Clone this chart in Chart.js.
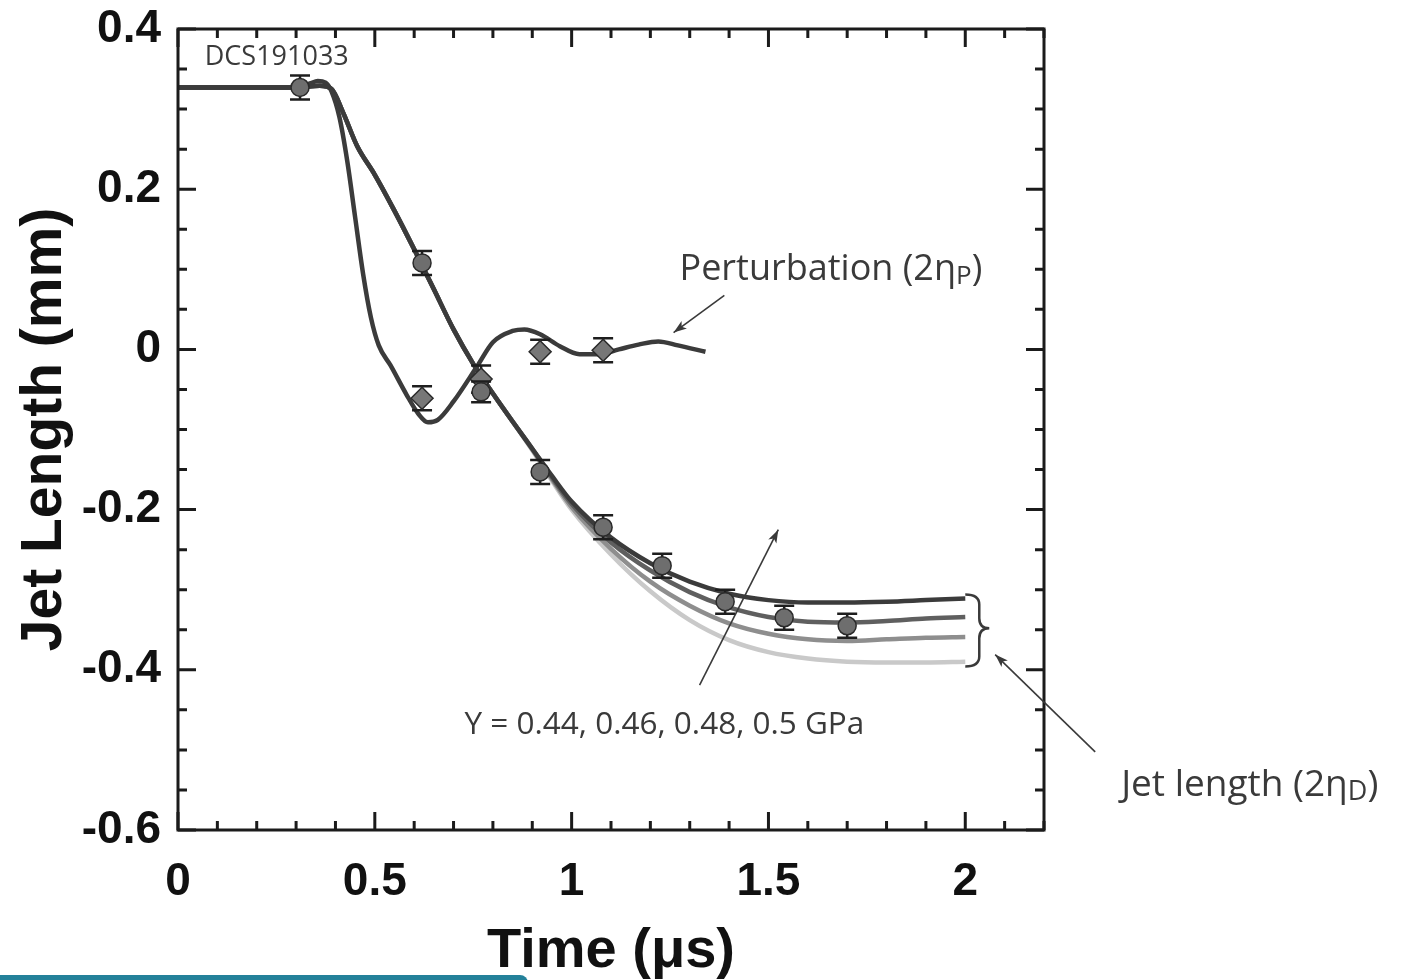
<!DOCTYPE html>
<html>
<head>
<meta charset="utf-8">
<script src="https://cdn.jsdelivr.net/npm/chart.js@4.4.1/dist/chart.umd.min.js"></script>
<style>
  html, body { margin: 0; padding: 0; background: #fff; }
  #wrap { position: relative; width: 1401px; height: 980px; overflow: hidden; }
  #strip { position: absolute; left: 0; top: 975px; width: 528px; height: 12px; background: #23819a; border-top-right-radius: 8px; }
</style>
</head>
<body>
<div id="wrap">
  <canvas id="chart" width="1401" height="980"></canvas>
  <div id="strip"></div>
</div>
<script>
// Simulation curves (time in us, length in mm)
const simTime = [0, 0.3, 0.36, 0.39, 0.42, 0.455, 0.5, 0.55, 0.6, 0.65, 0.7, 0.75, 0.8, 0.85, 0.9, 0.95, 1.0, 1.1, 1.2, 1.3, 1.4, 1.5, 1.6, 1.7, 1.8, 1.9, 2.0];
const jetY050 = [0.327, 0.327, 0.329, 0.325, 0.295, 0.254, 0.218, 0.173, 0.125, 0.075, 0.025, -0.018, -0.055, -0.09, -0.124, -0.158, -0.19, -0.235, -0.267, -0.29, -0.305, -0.313, -0.316, -0.316, -0.315, -0.313, -0.311];
const jetY048 = [0.327, 0.327, 0.329, 0.325, 0.295, 0.254, 0.218, 0.173, 0.125, 0.075, 0.025, -0.018, -0.055, -0.09, -0.124, -0.160, -0.193, -0.241, -0.276, -0.303, -0.322, -0.334, -0.34, -0.341, -0.339, -0.336, -0.334];
const jetY046 = [0.327, 0.327, 0.329, 0.325, 0.295, 0.254, 0.218, 0.173, 0.125, 0.075, 0.025, -0.018, -0.055, -0.09, -0.125, -0.162, -0.197, -0.249, -0.29, -0.32, -0.342, -0.355, -0.362, -0.364, -0.362, -0.36, -0.359];
const jetY044 = [0.327, 0.327, 0.329, 0.325, 0.295, 0.254, 0.218, 0.173, 0.125, 0.075, 0.025, -0.018, -0.055, -0.09, -0.126, -0.164, -0.2, -0.256, -0.302, -0.338, -0.363, -0.378, -0.386, -0.39, -0.391, -0.391, -0.39];

const pertTime = [0, 0.3, 0.335, 0.355, 0.375, 0.39, 0.41, 0.43, 0.45, 0.47, 0.49, 0.51, 0.54, 0.58, 0.61, 0.635, 0.66, 0.7, 0.76, 0.8, 0.85, 0.88, 0.92, 0.97, 1.02, 1.07, 1.12, 1.17, 1.22, 1.27, 1.34];
const pertY = [0.327, 0.327, 0.332, 0.335, 0.333, 0.322, 0.29, 0.235, 0.165, 0.095, 0.04, 0.005, -0.02, -0.056, -0.08, -0.091, -0.088, -0.065, -0.021, 0.009, 0.023, 0.025, 0.019, 0.004, -0.006, -0.006, 0.0, 0.006, 0.01, 0.005, -0.003];

// Measurements
const measTime = [0.31, 0.62, 0.77, 0.92, 1.08, 1.23, 1.39, 1.54, 1.70];
const measJet = [0.327, 0.108, -0.053, -0.153, -0.222, -0.27, -0.315, -0.335, -0.345];
const measJetErr = [0.015, 0.015, 0.013, 0.015, 0.015, 0.015, 0.015, 0.015, 0.015];
const measPertTime = [0.62, 0.77, 0.92, 1.08];
const measPert = [-0.061, -0.037, -0.003, -0.001];
const measPertErr = [0.015, 0.017, 0.015, 0.015];

const xTickValues = [0, 0.5, 1, 1.5, 2];
const xTickLabels = ['0', '0.5', '1', '1.5', '2'];
const yTickValues = [-0.6, -0.4, -0.2, 0, 0.2, 0.4];
const yTickLabels = ['-0.6', '-0.4', '-0.2', '0', '0.2', '0.4'];

const pts = (xs, ys) => xs.map((x, i) => ({ x: x, y: ys[i] }));

function curve(label, xs, ys, color) {
    return {
        label, data: pts(xs, ys), borderColor: color, borderWidth: 4.5,
        pointRadius: 0, cubicInterpolationMode: 'monotone', fill: false
    };
}

function errorBars(ctx, xs, ys, errs, xScale, yScale) {
    ctx.save();
    ctx.strokeStyle = '#1e1e1e';
    ctx.lineWidth = 2.5;
    ctx.beginPath();
    xs.forEach((t, i) => {
        const px = xScale.getPixelForValue(t);
        const top = yScale.getPixelForValue(ys[i] + errs[i]);
        const bot = yScale.getPixelForValue(ys[i] - errs[i]);
        ctx.moveTo(px, top); ctx.lineTo(px, bot);
        ctx.moveTo(px - 10, top); ctx.lineTo(px + 10, top);
        ctx.moveTo(px - 10, bot); ctx.lineTo(px + 10, bot);
    });
    ctx.stroke();
    ctx.restore();
}

const errorPlugin = {
    id: 'errorPlugin',
    beforeDatasetDraw(chart, args) {
        const { x, y } = chart.scales;
        if (args.index === 0) errorBars(chart.ctx, measTime, measJet, measJetErr, x, y);
        if (args.index === 1) errorBars(chart.ctx, measPertTime, measPert, measPertErr, x, y);
    }
};

const framePlugin = {
    id: 'framePlugin',
    afterDraw(chart) {
        const { ctx, chartArea: a, scales: { x, y } } = chart;
        ctx.save();
        ctx.strokeStyle = '#1b1b1b';
        ctx.lineWidth = 3;
        ctx.beginPath();
        for (let i = 0; i <= 22; i++) {
            const px = x.getPixelForValue(i / 10);
            const len = i % 5 === 0 ? 18 : 9;
            ctx.moveTo(px, a.bottom); ctx.lineTo(px, a.bottom - len);
            ctx.moveTo(px, a.top); ctx.lineTo(px, a.top + len);
        }
        for (let i = 0; i <= 20; i++) {
            const py = y.getPixelForValue(-0.6 + i * 0.05);
            const len = i % 4 === 0 ? 18 : 9;
            ctx.moveTo(a.left, py); ctx.lineTo(a.left + len, py);
            ctx.moveTo(a.right, py); ctx.lineTo(a.right - len, py);
        }
        ctx.stroke();
        ctx.strokeRect(a.left, a.top, a.width, a.height);
        ctx.restore();
    }
};

function subText(ctx, x, y, main, sub, tail, size) {
    ctx.font = size + 'px "Open Sans"';
    ctx.fillText(main, x, y);
    let w = ctx.measureText(main).width;
    ctx.font = Math.round(size * 0.72) + 'px "Open Sans"';
    ctx.fillText(sub, x + w, y + size * 0.2);
    w += ctx.measureText(sub).width;
    ctx.font = size + 'px "Open Sans"';
    ctx.fillText(tail, x + w, y);
}

function arrow(ctx, x1, y1, x2, y2) {
    const ang = Math.atan2(y2 - y1, x2 - x1);
    ctx.beginPath();
    ctx.moveTo(x1, y1); ctx.lineTo(x2, y2);
    ctx.stroke();
    ctx.beginPath();
    ctx.moveTo(x2, y2);
    ctx.lineTo(x2 - 14 * Math.cos(ang - 0.33), y2 - 14 * Math.sin(ang - 0.33));
    ctx.lineTo(x2 - 10 * Math.cos(ang), y2 - 10 * Math.sin(ang));
    ctx.lineTo(x2 - 14 * Math.cos(ang + 0.33), y2 - 14 * Math.sin(ang + 0.33));
    ctx.closePath();
    ctx.fill();
}

const notesPlugin = {
    id: 'notesPlugin',
    afterDraw(chart) {
        const { ctx, scales: { x, y } } = chart;
        const X = v => x.getPixelForValue(v), Y = v => y.getPixelForValue(v);
        ctx.save();
        ctx.fillStyle = '#3a3a3a';
        ctx.strokeStyle = '#3a3a3a';
        ctx.textBaseline = 'middle';
        ctx.textAlign = 'left';

        ctx.font = '27px "Open Sans"';
        ctx.fillText('DCS191033', X(0.068), Y(0.365));

        subText(ctx, X(1.274), Y(0.1), 'Perturbation (2\u03b7', 'P', ')', 36);
        ctx.font = '31.5px "Open Sans"';
        ctx.fillText('Y = 0.44, 0.46, 0.48, 0.5 GPa', X(0.728), Y(-0.469));
        subText(ctx, X(2.396), Y(-0.544), 'Jet length (2\u03b7', 'D', ')', 37);

        ctx.lineWidth = 1.6;
        arrow(ctx, X(1.388), Y(0.0675), X(1.259), Y(0.021));
        arrow(ctx, X(1.325), Y(-0.419), X(1.525), Y(-0.225));
        arrow(ctx, X(2.33), Y(-0.5025), X(2.076), Y(-0.381));

        // brace grouping the four jet curves
        const x0 = X(2.0), xm = x0 + 14, xt = x0 + 24;
        const yT = Y(-0.306), yM = Y(-0.348), yB = Y(-0.396), r = 10;
        ctx.lineWidth = 2.5;
        ctx.beginPath();
        ctx.moveTo(x0, yT);
        ctx.quadraticCurveTo(xm, yT, xm, yT + r);
        ctx.lineTo(xm, yM - r);
        ctx.quadraticCurveTo(xm, yM, xt, yM);
        ctx.quadraticCurveTo(xm, yM, xm, yM + r);
        ctx.lineTo(xm, yB - r);
        ctx.quadraticCurveTo(xm, yB, x0, yB);
        ctx.stroke();
        ctx.restore();
    }
};

const tickFont = { family: '"Liberation Sans", Arial, sans-serif', size: 46, weight: 'bold', lineHeight: 1 };

new Chart(document.getElementById('chart'), {
    type: 'line',
    data: {
        datasets: [
            {
                label: 'Jet length data', data: pts(measTime, measJet), showLine: false,
                pointStyle: 'circle', pointRadius: 9, pointBackgroundColor: '#6e6e6e',
                pointBorderColor: '#2a2a2a', pointBorderWidth: 1.5
            },
            {
                label: 'Perturbation data', data: pts(measPertTime, measPert), showLine: false,
                pointStyle: 'rectRot', pointRadius: 11, pointBackgroundColor: '#777777',
                pointBorderColor: '#2a2a2a', pointBorderWidth: 1.5
            },
            curve('Perturbation', pertTime, pertY, '#3b3b3b'),
            curve('Y = 0.50 GPa', simTime, jetY050, '#3b3b3b'),
            curve('Y = 0.48 GPa', simTime, jetY048, '#5f5f5f'),
            curve('Y = 0.46 GPa', simTime, jetY046, '#8e8e8e'),
            curve('Y = 0.44 GPa', simTime, jetY044, '#c9c9c9')
        ]
    },
    options: {
        responsive: false,
        animation: false,
        devicePixelRatio: 1,
        layout: { padding: { top: 29, right: 357, bottom: 0, left: 0 } },
        plugins: { legend: { display: false }, tooltip: { enabled: false } },
        scales: {
            x: {
                type: 'linear', min: 0, max: 2.2,
                grid: { display: false, drawTicks: false }, border: { display: false },
                afterBuildTicks: s => { s.ticks = xTickValues.map(v => ({ value: v })); },
                afterFit: s => { s.height = 150; s.paddingLeft = 0; s.paddingRight = 0; },
                ticks: {
                    padding: 29, color: '#111', font: tickFont, maxRotation: 0,
                    callback: v => xTickLabels[xTickValues.indexOf(v)]
                },
                title: {
                    display: true, text: 'Time (\u03bcs)', color: '#111', padding: 0,
                    font: { family: '"Liberation Sans", Arial, sans-serif', size: 56, weight: 'bold', lineHeight: 1 }
                }
            },
            y: {
                type: 'linear', min: -0.6, max: 0.4,
                grid: { display: false, drawTicks: false }, border: { display: false },
                afterBuildTicks: s => { s.ticks = yTickValues.map(v => ({ value: v })); },
                afterFit: s => { s.width = 178; s.paddingTop = 0; s.paddingBottom = 0; },
                ticks: {
                    padding: 17, color: '#111', font: tickFont,
                    callback: v => yTickLabels[yTickValues.indexOf(v)]
                },
                title: {
                    display: true, text: 'Jet Length (mm)', color: '#111', padding: { top: 17, bottom: 0 },
                    font: { family: '"Liberation Sans", Arial, sans-serif', size: 57, weight: 'bold', lineHeight: 1 }
                }
            }
        }
    },
    plugins: [errorPlugin, framePlugin, notesPlugin]
});
</script>
</body>
</html>
